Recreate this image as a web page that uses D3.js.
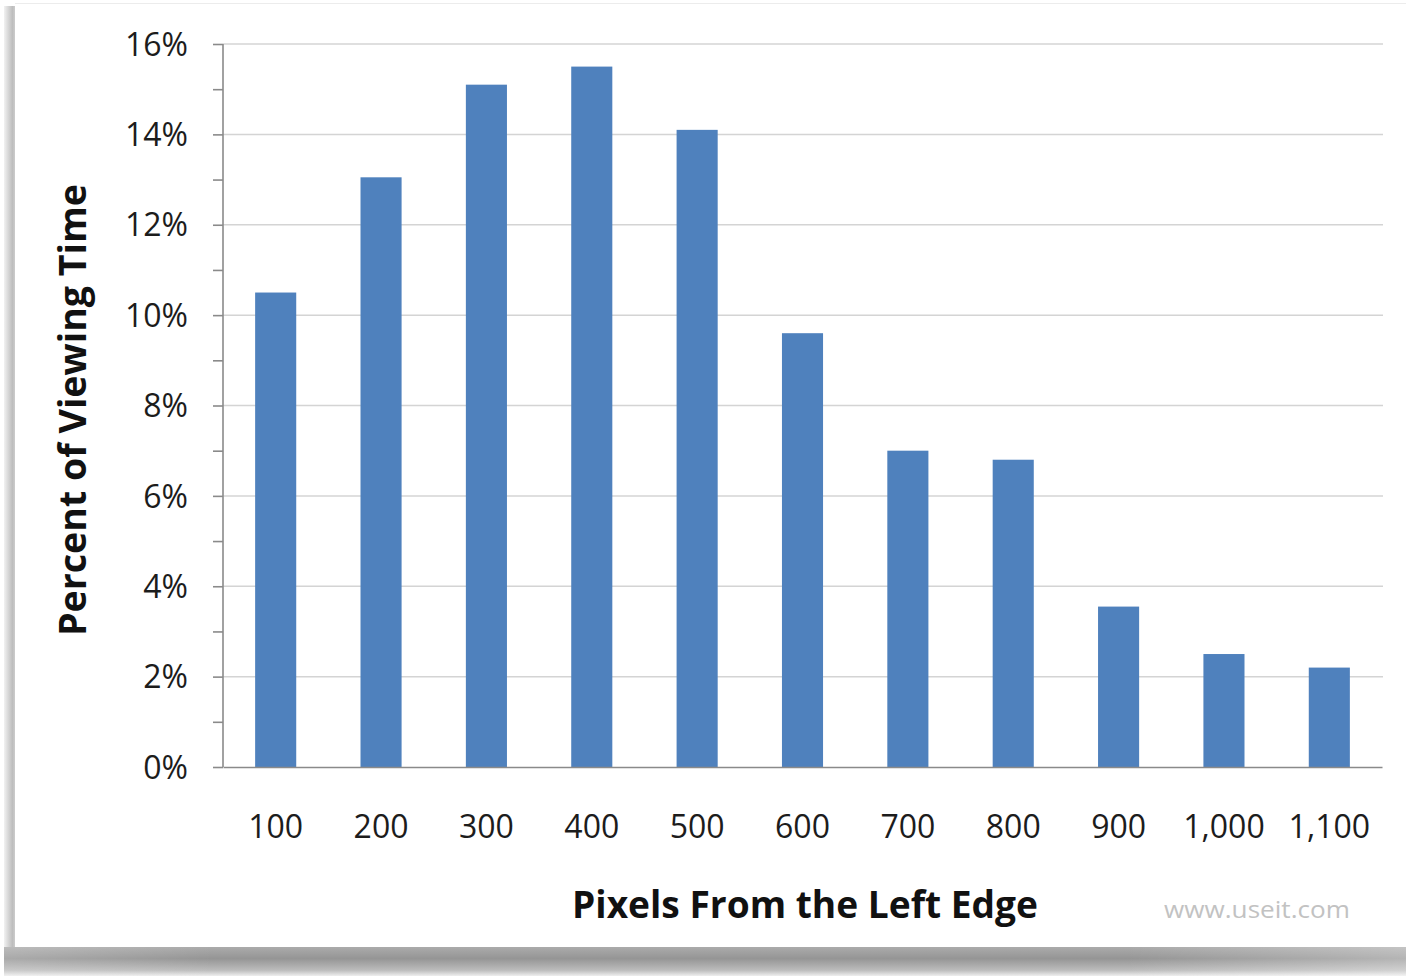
<!DOCTYPE html>
<html>
<head>
<meta charset="utf-8">
<script src="https://cdn.jsdelivr.net/npm/d3@7"></script>
<style>
  html, body { margin: 0; padding: 0; background: #ffffff; }
  svg { display: block; }
</style>
</head>
<body>
<svg id="chart" width="1406" height="977"></svg>
<script>
// Share of viewing time by horizontal position on the page
const categories = ["100", "200", "300", "400", "500", "600", "700", "800", "900", "1,000", "1,100"];
const percentValues = [10.5, 13.05, 15.1, 15.5, 14.1, 9.6, 7.0, 6.8, 3.55, 2.5, 2.2];
const majorTicks = [0, 2, 4, 6, 8, 10, 12, 14, 16];
const minorTicks = [1, 3, 5, 7, 9, 11, 13, 15];
const xTitle = "Pixels From the Left Edge";
const yTitle = "Percent of Viewing Time";
const creditText = "www.useit.com";

const W = 1406, H = 977;
const plot = { left: 223, right: 1382, top: 44, bottom: 767 };
const fontFamily = "'Open Sans', 'Noto Sans', sans-serif";
const axisColor = "#8a8a8a";
const gridColor = "#d4d4d4";
const barColor = "#4f81bd";

const svg = d3.select("#chart");
const defs = svg.append("defs");

// card backdrop with soft drop shadow along left and bottom
const leftShade = defs.append("linearGradient").attr("id", "leftShade")
  .attr("x1", 0).attr("x2", 1).attr("y1", 0).attr("y2", 0);
leftShade.append("stop").attr("offset", "0%").attr("stop-color", "#f2f2f2");
leftShade.append("stop").attr("offset", "70%").attr("stop-color", "#bdbdbd");
leftShade.append("stop").attr("offset", "100%").attr("stop-color", "#d2d2d2");

const bottomShade = defs.append("linearGradient").attr("id", "bottomShade")
  .attr("x1", 0).attr("x2", 0).attr("y1", 0).attr("y2", 1);
bottomShade.append("stop").attr("offset", "0%").attr("stop-color", "#ababab");
bottomShade.append("stop").attr("offset", "40%").attr("stop-color", "#959595");
bottomShade.append("stop").attr("offset", "80%").attr("stop-color", "#bcbcbc");
bottomShade.append("stop").attr("offset", "100%").attr("stop-color", "#eeeeee");

const bottomFade = defs.append("linearGradient").attr("id", "bottomFade")
  .attr("x1", 0).attr("x2", 1).attr("y1", 0).attr("y2", 0);
bottomFade.append("stop").attr("offset", "0%").attr("stop-color", "#ffffff").attr("stop-opacity", 0.2);
bottomFade.append("stop").attr("offset", "15%").attr("stop-color", "#ffffff").attr("stop-opacity", 0);
bottomFade.append("stop").attr("offset", "80%").attr("stop-color", "#ffffff").attr("stop-opacity", 0);
bottomFade.append("stop").attr("offset", "100%").attr("stop-color", "#ffffff").attr("stop-opacity", 0.3);

svg.append("rect").attr("x", 0).attr("y", 0).attr("width", W).attr("height", H).attr("fill", "#ffffff");
svg.append("rect").attr("x", 4).attr("y", 6).attr("width", 12).attr("height", 970).attr("fill", "url(#leftShade)");
svg.append("rect").attr("x", 4).attr("y", 947).attr("width", W - 4).attr("height", 29).attr("fill", "url(#bottomShade)");
svg.append("rect").attr("x", 4).attr("y", 947).attr("width", W - 4).attr("height", 29).attr("fill", "url(#bottomFade)");
svg.append("rect").attr("x", 15).attr("y", 3).attr("width", W - 15).attr("height", 944)
  .attr("fill", "#ffffff");
svg.append("line").attr("x1", 15).attr("x2", W).attr("y1", 3.5).attr("y2", 3.5)
  .attr("stroke", "#ececec").attr("stroke-width", 1);

// scales
const x = d3.scaleBand().domain(categories)
  .range([plot.left, plot.right]).paddingInner(0.61).paddingOuter(0.305);
const y = d3.scaleLinear().domain([0, 16]).range([plot.bottom, plot.top]);

// horizontal gridlines
svg.append("g").selectAll("line")
  .data(majorTicks.filter(v => v > 0))
  .join("line")
  .attr("x1", plot.left).attr("x2", plot.right + 1)
  .attr("y1", d => y(d)).attr("y2", d => y(d))
  .attr("stroke", gridColor).attr("stroke-width", 1.5);

// bars
svg.append("g").selectAll("rect")
  .data(categories)
  .join("rect")
  .attr("x", d => x(d))
  .attr("width", x.bandwidth())
  .attr("y", (d, i) => y(percentValues[i]))
  .attr("height", (d, i) => y(0) - y(percentValues[i]))
  .attr("fill", barColor);

// y axis: labelled major ticks plus unlabelled minor ticks
const yAxis = svg.append("g").attr("transform", `translate(${plot.left},0)`)
  .call(d3.axisLeft(y).tickValues(majorTicks).tickSize(10).tickPadding(25)
    .tickFormat(d => d + "%"));
svg.append("g").attr("transform", `translate(${plot.left},0)`)
  .call(d3.axisLeft(y).tickValues(minorTicks).tickSize(10).tickFormat(""))
  .select(".domain").remove();
yAxis.select(".domain").attr("d", `M0,${plot.top}V${plot.bottom}`);

// x axis: ticks at category boundaries
const boundaries = categories.map(c => x(c) + x.bandwidth() / 2 - x.step() / 2);
boundaries.push(boundaries[boundaries.length - 1] + x.step());
const xAxis = svg.append("g").attr("transform", `translate(0,${plot.bottom})`);
xAxis.append("path").attr("class", "domain")
  .attr("d", `M${plot.left},0H${plot.right}`);
xAxis.selectAll("line.tick")
  .data(boundaries)
  .join("line").attr("class", "tick")
  .attr("x1", d => d).attr("x2", d => d)
  .attr("y1", 0).attr("y2", 13);
xAxis.call(d3.axisBottom(x).tickSize(0).tickPadding(0))
  .selectAll(".tick text")
  .attr("y", 827 - plot.bottom)
  .attr("dy", "0.35em");

svg.selectAll(".domain, .tick line, line.tick")
  .attr("stroke", axisColor).attr("stroke-width", 1.6);
svg.selectAll(".tick text")
  .attr("font-family", fontFamily).attr("font-size", 32)
  .attr("fill", "#1c1c1c");
yAxis.selectAll(".tick text").attr("dy", "0.35em");

// axis titles
svg.append("text")
  .attr("x", 805).attr("y", 918)
  .attr("text-anchor", "middle")
  .attr("font-family", fontFamily).attr("font-weight", 700)
  .attr("font-size", 38).attr("fill", "#111111")
  .attr("textLength", 466).attr("lengthAdjust", "spacingAndGlyphs")
  .text(xTitle);

svg.append("text")
  .attr("transform", "translate(86,410) rotate(-90)")
  .attr("text-anchor", "middle")
  .attr("font-family", fontFamily).attr("font-weight", 700)
  .attr("font-size", 38).attr("fill", "#111111")
  .attr("textLength", 452).attr("lengthAdjust", "spacingAndGlyphs")
  .text(yTitle);

// credit line
svg.append("text")
  .attr("x", 1350).attr("y", 918)
  .attr("text-anchor", "end")
  .attr("font-family", fontFamily).attr("font-size", 24)
  .attr("fill", "#c2c2c2")
  .attr("textLength", 186).attr("lengthAdjust", "spacingAndGlyphs")
  .text(creditText);
</script>
</body>
</html>
